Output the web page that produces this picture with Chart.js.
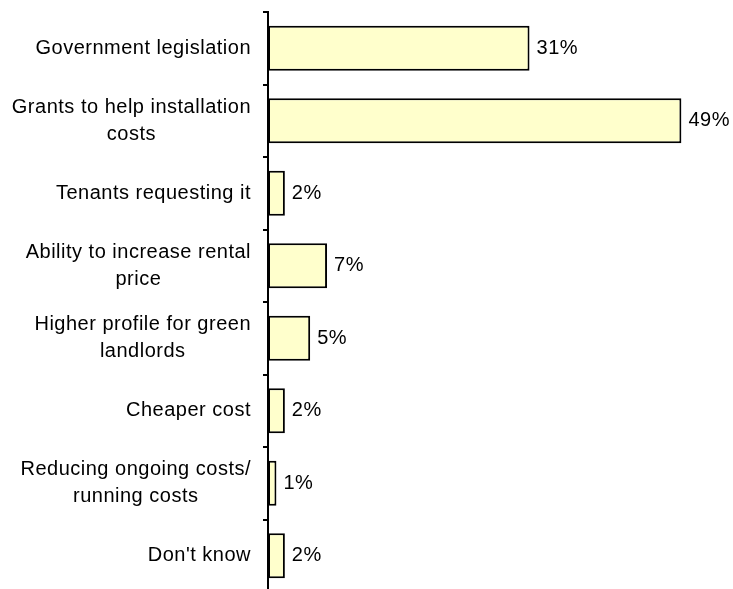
<!DOCTYPE html>
<html>
<head>
<meta charset="utf-8">
<script src="https://cdn.jsdelivr.net/npm/chart.js@4/dist/chart.umd.min.js"></script>
<style>
  html, body { margin: 0; padding: 0; background: #fff; overflow: hidden; }
  #wrap { position: relative; width: 733px; height: 604px; }
</style>
</head>
<body>
<div id="wrap"><canvas id="c"></canvas></div>
<script>
// Survey answers (each label split into its printed lines)
const categories = [
  ['Government legislation'],
  ['Grants to help installation', 'costs'],
  ['Tenants requesting it'],
  ['Ability to increase rental', 'price'],
  ['Higher profile for green', 'landlords'],
  ['Cheaper cost'],
  ['Reducing ongoing costs/', 'running costs'],
  ["Don't know"]
];
// Share of respondents, percent
const shares = [31, 49, 2, 7, 5, 2, 1, 2];

const FONT = '20px "Liberation Sans", Arial, Helvetica, sans-serif';
const SPACING = '0.5px';
const LINE_H = 27;

// Draws the category names (block right-aligned, lines centred) and the value labels
const sideLabels = {
  id: 'sideLabels',
  afterDatasetsDraw(chart) {
    const ctx = chart.ctx;
    const yScale = chart.scales.y;
    const meta = chart.getDatasetMeta(0);
    ctx.save();
    ctx.font = FONT;
    ctx.fillStyle = '#000';
    if ('letterSpacing' in ctx) ctx.letterSpacing = SPACING;
    ctx.textBaseline = 'middle';
    const right = yScale.right - 17;
    ctx.textAlign = 'center';
    categories.forEach((lines, i) => {
      const cy = yScale.getPixelForTick(i);
      const w = Math.max(...lines.map(l => ctx.measureText(l).width));
      const cx = right - w / 2;
      lines.forEach((line, j) => {
        ctx.fillText(line, cx, cy + (j - (lines.length - 1) / 2) * LINE_H);
      });
    });
    ctx.textAlign = 'left';
    meta.data.forEach((bar, i) => {
      ctx.fillText(shares[i] + '%', bar.x + 7, bar.y);
    });
    ctx.restore();
  }
};

new Chart(document.getElementById('c'), {
  type: 'bar',
  data: {
    labels: categories,
    datasets: [{
      data: shares,
      backgroundColor: '#FFFFCC',
      borderColor: '#000',
      borderWidth: 2,
      borderSkipped: false,
      barPercentage: 0.62,
      categoryPercentage: 1.0
    }]
  },
  options: {
    indexAxis: 'y',
    responsive: true,
    maintainAspectRatio: false,
    animation: false,
    layout: { padding: { left: 0, right: 1, top: 12, bottom: 12 } },
    plugins: { legend: { display: false }, tooltip: { enabled: false } },
    scales: {
      x: { min: 0, max: 55, display: false },
      y: {
        grid: {
          offset: true,
          drawOnChartArea: false,
          drawTicks: true,
          tickLength: 5,
          color: '#000',
          lineWidth: 2
        },
        border: { display: true, color: '#000', width: 2 },
        ticks: { display: false },
        afterFit(scale) { scale.width = 268; }
      }
    }
  },
  plugins: [sideLabels]
});
</script>
</body>
</html>
